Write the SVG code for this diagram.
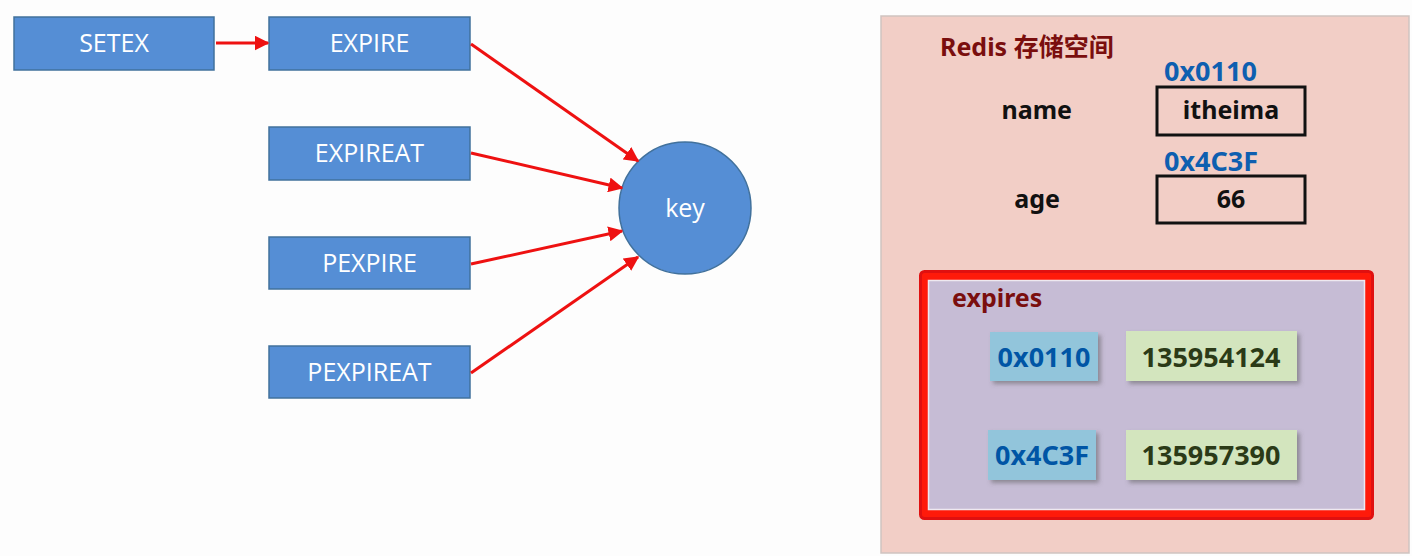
<svg xmlns="http://www.w3.org/2000/svg" width="1412" height="556" viewBox="0 0 1412 556">
<style>
.cmd{fill:#558ED5;stroke:#41719C;stroke-width:1.5}
.cmdt{font-family:"Open Sans","Noto Sans",sans-serif;font-size:25px;fill:#fff;text-anchor:middle}
.conn{stroke:#EE1111;stroke-width:3;fill:none;marker-end:url(#ah)}
.b{font-family:"Noto Sans","Noto Sans CJK SC",sans-serif;font-weight:bold;font-size:25px}
.big{font-size:27px}
.blue{fill:#0E5FB0}
.dred{fill:#7A0E0E}
.blk{fill:#111}
.val{fill:none;stroke:#111;stroke-width:3}
.addr{fill:#92C5DB}
.num{fill:#D3E5BE}
</style>
<defs>
<marker id="ah" viewBox="0 0 10 10" refX="9" refY="5" markerWidth="5" markerHeight="5" orient="auto" markerUnits="strokeWidth">
<path d="M0,0 L10,5 L0,10 z" fill="#EE1111"/>
</marker>
<filter id="sh" x="-10%" y="-20%" width="130%" height="150%">
<feDropShadow dx="3" dy="3" stdDeviation="2" flood-color="#555" flood-opacity="0.5"/>
</filter>
</defs>
<rect width="1412" height="556" fill="#FDFDFD"/>
<g id="setex"><rect class="cmd" x="14" y="17" width="200" height="53"/><text class="cmdt" x="114" y="52">SETEX</text></g>
<g id="expire"><rect class="cmd" x="269" y="17" width="201" height="53"/><text class="cmdt" x="369.5" y="52">EXPIRE</text></g>
<g id="expireat"><rect class="cmd" x="269" y="127" width="201" height="53"/><text class="cmdt" x="369.5" y="162">EXPIREAT</text></g>
<g id="pexpire"><rect class="cmd" x="269" y="237" width="201" height="52"/><text class="cmdt" x="369.5" y="272">PEXPIRE</text></g>
<g id="pexpireat"><rect class="cmd" x="269" y="346" width="201" height="52"/><text class="cmdt" x="369.5" y="381">PEXPIREAT</text></g>
<g id="key"><circle cx="685" cy="208" r="66" fill="#558ED5" stroke="#41719C" stroke-width="1.5"/><text class="cmdt" x="685" y="217">key</text></g>
<g id="connectors">
<line class="conn" x1="216" y1="43" x2="268" y2="43"/>
<line class="conn" x1="471" y1="44" x2="638" y2="161"/>
<line class="conn" x1="471" y1="153" x2="622" y2="188"/>
<line class="conn" x1="471" y1="264" x2="622" y2="231"/>
<line class="conn" x1="471" y1="373" x2="638" y2="257"/>
<line class="conn" x1="1090" y1="110" x2="1155" y2="110"/>
<line class="conn" x1="1090" y1="199" x2="1155" y2="199"/>
</g>
<g id="redis">
<rect x="881" y="16" width="528" height="537" fill="#F2CEC6" stroke="#CFC3C0" stroke-width="1.5"/>
<text class="b dred" x="940" y="56" font-size="24">Redis 存储空间</text>
</g>
<g id="name-entry">
<text class="b big blue" x="1164" y="81">0x0110</text>
<text class="b blk" x="1072" y="119" text-anchor="end">name</text>
<rect class="val" x="1157" y="87" width="148" height="48"/>
<text class="b blk" x="1231" y="119" text-anchor="middle">itheima</text>
</g>
<g id="age-entry">
<text class="b big blue" x="1164" y="171">0x4C3F</text>
<text class="b blk" x="1060" y="208" text-anchor="end">age</text>
<rect class="val" x="1157" y="176" width="148" height="47"/>
<text class="b blk" x="1231" y="208" text-anchor="middle">66</text>
</g>
<g id="expires">
<rect x="920.5" y="271.5" width="452" height="247" rx="4" fill="#FF1A0A" stroke="#E01010" stroke-width="3"/>
<rect x="928.5" y="280.5" width="436" height="229" fill="#C6BCD5" stroke="#EEE8F0" stroke-width="1.5"/>
<text class="b dred" x="952" y="307">expires</text>
</g>
<g id="exp1">
<rect class="addr" x="990" y="332" width="108" height="49" filter="url(#sh)"/>
<text class="b big" x="1044" y="367" text-anchor="middle" fill="#0055A5">0x0110</text>
<rect class="num" x="1126" y="331" width="171" height="50" filter="url(#sh)"/>
<text class="b big" x="1211" y="367" text-anchor="middle" fill="#2B3A17">135954124</text>
</g>
<g id="exp2">
<rect class="addr" x="988" y="430" width="108" height="50" filter="url(#sh)"/>
<text class="b big" x="1042" y="465" text-anchor="middle" fill="#0055A5">0x4C3F</text>
<rect class="num" x="1126" y="430" width="171" height="50" filter="url(#sh)"/>
<text class="b big" x="1211" y="465" text-anchor="middle" fill="#2B3A17">135957390</text>
</g>
</svg>
